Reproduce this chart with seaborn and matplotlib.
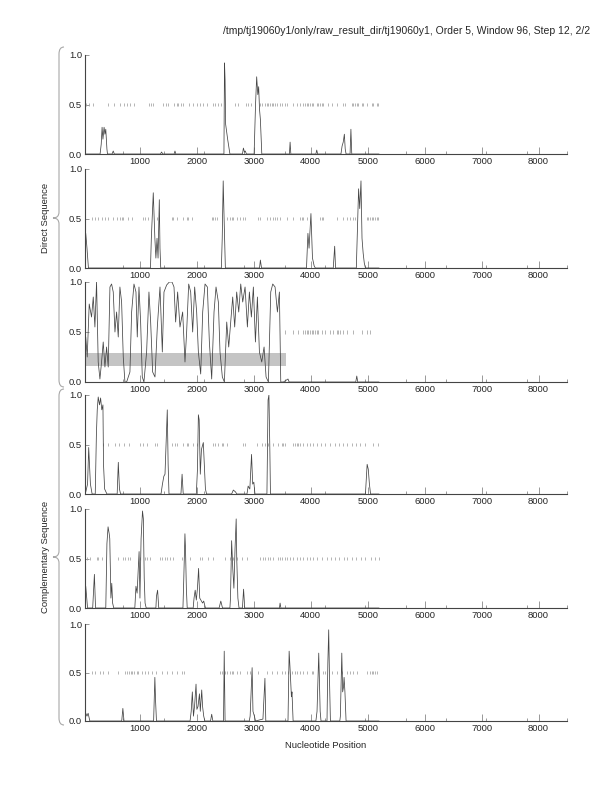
import numpy as np
import pandas as pd
import matplotlib
matplotlib.use("Agg")
import matplotlib.pyplot as plt
import seaborn as sns
from matplotlib.path import Path
from matplotlib.patches import PathPatch

title = "/tmp/tj19060y1/only/raw_result_dir/tj19060y1, Order 5, Window 96, Step 12, 2/2"

# coding potential traces (position, value) for the six frames
p1 = [(48, 0), (300, 0), (320, 0.1), (335, 0.27), (350, 0.15), (370, 0.27), (385, 0.2), (400, 0.25),
      (420, 0.05), (430, 0), (510, 0), (531, 0.03), (550, 0), (1360, 0), (1380, 0.02), (1400, 0),
      (1600, 0), (1615, 0.03), (1630, 0), (2475, 0), (2485, 0.92), (2495, 0.75), (2505, 0.3),
      (2540, 0.15), (2580, 0), (2800, 0), (2817, 0.06), (2835, 0.02), (2850, 0.03), (2870, 0),
      (3005, 0), (3030, 0.5), (3050, 0.78), (3070, 0.6), (3085, 0.68), (3100, 0.45), (3115, 0.35),
      (3140, 0), (3625, 0), (3637, 0.12), (3650, 0), (4090, 0), (4105, 0.04), (4120, 0), (4530, 0),
      (4550, 0.08), (4570, 0.12), (4590, 0.2), (4605, 0.05), (4620, 0), (4690, 0), (4705, 0.25),
      (4720, 0), (5200, 0)]
p2 = [(48, 0.35), (70, 0.2), (95, 0), (1185, 0), (1200, 0.3), (1234, 0.76), (1250, 0.5), (1262, 0.3),
      (1280, 0.1), (1300, 0.3), (1318, 0.1), (1340, 0.69), (1352, 0.2), (1365, 0), (2430, 0),
      (2445, 0.3), (2462, 0.88), (2478, 0.5), (2500, 0), (3100, 0), (3115, 0.08), (3135, 0),
      (3925, 0), (3950, 0.35), (3970, 0.2), (4003, 0.55), (4030, 0.1), (4060, 0.02), (4080, 0),
      (4395, 0), (4420, 0.22), (4435, 0), (4800, 0), (4840, 0.8), (4860, 0.6), (4882, 0.88),
      (4900, 0.3), (4920, 0.15), (4940, 0.05), (4960, 0), (5200, 0)]
p3 = [(48, 0.45), (74, 0.25), (109, 0.78), (150, 0.65), (180, 0.85), (209, 0.55), (238, 1.0),
      (267, 0.2), (297, 0.03), (326, 0.2), (355, 0.4), (385, 0.15), (414, 0.35), (443, 0.15),
      (473, 0.95), (502, 0.98), (531, 0.9), (561, 0.5), (590, 0.7), (619, 0.45), (648, 0.95),
      (678, 0.8), (707, 0.25), (736, 0), (766, 0), (824, 0.1), (854, 0.7), (895, 0.98), (930, 0.9),
      (953, 0.45), (983, 0.95), (1012, 0.6), (1041, 0.05), (1070, 0), (1117, 0.3), (1158, 0.9),
      (1188, 0.6), (1223, 0.1), (1264, 0.05), (1305, 0.55), (1352, 0.95), (1393, 0.3), (1422, 0.9),
      (1469, 0.97), (1516, 1.0), (1563, 1.0), (1598, 0.95), (1627, 0.6), (1662, 0.9), (1703, 0.55),
      (1750, 0.7), (1791, 0.2), (1820, 0.5), (1856, 0.98), (1891, 0.9), (1926, 0.5), (1961, 0.95),
      (1996, 0.7), (2026, 0.3), (2067, 0.08), (2102, 0.7), (2143, 0.98), (2184, 0.95), (2219, 0.4),
      (2260, 0.03), (2301, 0.7), (2336, 0.95), (2377, 0.8), (2406, 0.3), (2447, 0.05), (2483, 0),
      (2524, 0.6), (2559, 0.35), (2594, 0.6), (2629, 0.85), (2664, 0.55), (2699, 0.9), (2735, 0.7),
      (2770, 0.98), (2805, 0.8), (2846, 0.95), (2887, 0.55), (2922, 0.9), (2957, 0.65), (2992, 0.95),
      (3028, 0.4), (3063, 0.85), (3098, 0.3), (3139, 0.2), (3180, 0.35), (3215, 0.05), (3256, 0),
      (3297, 0.9), (3332, 0.98), (3373, 0.95), (3414, 0.7), (3449, 0.9), (3473, 0), (3520, 0),
      (3600, 0.03), (3620, 0), (4790, 0), (4808, 0.06), (4825, 0), (5200, 0)]
p4 = [(48, 0.02), (80, 0.1), (100, 0.47), (130, 0.1), (160, 0), (215, 0), (235, 0.6), (250, 0.85),
      (267, 0.98), (290, 0.9), (309, 0.97), (330, 0.85), (350, 0.9), (360, 0.3), (380, 0.05), (420, 0),
      (600, 0), (620, 0.32), (640, 0.05), (660, 0), (1370, 0), (1395, 0.1), (1420, 0.18), (1440, 0.2),
      (1480, 0.85), (1495, 0.3), (1510, 0), (1720, 0), (1740, 0.2), (1760, 0), (1990, 0), (2010, 0.25),
      (2026, 0.8), (2040, 0.75), (2060, 0.2), (2080, 0.45), (2113, 0.52), (2130, 0.3), (2150, 0.05),
      (2170, 0), (2610, 0), (2640, 0.04), (2680, 0.02), (2700, 0), (2880, 0), (2900, 0.08),
      (2930, 0.05), (2960, 0.4), (2980, 0.1), (3000, 0.12), (3020, 0), (3230, 0), (3250, 0.95),
      (3265, 1.0), (3280, 0.5), (3292, 0), (4960, 0), (4990, 0.3), (5010, 0.25), (5030, 0.1),
      (5050, 0), (5200, 0)]
p5 = [(48, 0.22), (80, 0), (170, 0), (200, 0.34), (220, 0), (400, 0), (420, 0.65), (440, 0.82),
      (460, 0.75), (470, 0.7), (480, 0.4), (490, 0.1), (505, 0.25), (520, 0.05), (540, 0), (910, 0),
      (930, 0.22), (950, 0.15), (985, 0.57), (1000, 0.1), (1020, 0.7), (1045, 0.98), (1060, 0.9),
      (1075, 0.3), (1090, 0.05), (1110, 0), (1280, 0), (1290, 0.12), (1310, 0.18), (1330, 0),
      (1755, 0), (1770, 0.3), (1790, 0.75), (1800, 0.6), (1815, 0.2), (1830, 0), (1935, 0),
      (1950, 0.1), (1970, 0.18), (1990, 0.08), (2010, 0.2), (2030, 0.4), (2050, 0.1), (2070, 0.08),
      (2100, 0.05), (2120, 0.07), (2150, 0), (2390, 0), (2420, 0.07), (2450, 0), (2580, 0),
      (2590, 0.1), (2610, 0.68), (2630, 0.4), (2650, 0.2), (2670, 0.6), (2690, 0.9), (2700, 0.5),
      (2720, 0.1), (2740, 0), (2800, 0), (2820, 0.19), (2840, 0), (3450, 0), (3461, 0.05), (3475, 0),
      (5200, 0)]
p6 = [(48, 0.08), (70, 0.05), (90, 0.08), (120, 0), (680, 0), (700, 0.13), (720, 0), (1240, 0),
      (1262, 0.45), (1275, 0.2), (1290, 0), (1880, 0), (1900, 0.1), (1920, 0.3), (1940, 0.05),
      (1960, 0.16), (1985, 0.38), (2000, 0.12), (2020, 0.15), (2045, 0.28), (2060, 0.1), (2085, 0.32),
      (2100, 0.15), (2120, 0.05), (2140, 0), (2240, 0), (2260, 0.07), (2280, 0), (2468, 0),
      (2480, 0.72), (2495, 0), (2920, 0), (2935, 0.05), (2970, 0.55), (2985, 0.1), (3010, 0.05),
      (3030, 0), (3160, 0.02), (3195, 0.44), (3210, 0), (3600, 0), (3620, 0.72), (3640, 0.5),
      (3660, 0.25), (3670, 0.3), (3690, 0), (4090, 0), (4110, 0.1), (4140, 0.7), (4165, 0.1),
      (4180, 0), (4285, 0), (4300, 0.6), (4315, 0.94), (4330, 0.4), (4345, 0), (4510, 0), (4520, 0.05),
      (4545, 0.7), (4560, 0.3), (4575, 0.35), (4585, 0.45), (4600, 0.3), (4620, 0), (5200, 0)]

# stop codon positions drawn at 0.5
s1 = [51, 109, 168, 443, 543, 648, 725, 766, 824, 895, 1158, 1188, 1223, 1410, 1451, 1498, 1598, 1645,
      1674, 1715, 1762, 1867, 1938, 1996, 2055, 2113, 2172, 2277, 2319, 2377, 2418, 2670, 2729, 2863,
      2905, 2946, 3110, 3151, 3198, 3227, 3256, 3285, 3315, 3344, 3373, 3403, 3461, 3491, 3549, 3578,
      3696, 3754, 3813, 3871, 3900, 3930, 3958, 3988, 4018, 4047, 4106, 4134, 4164, 4193, 4222, 4310,
      4369, 4457, 4574, 4603, 4720, 4750, 4779, 4808, 4838, 4896, 4925, 4984, 5072, 5101, 5160, 5189]
s2 = [150, 209, 267, 326, 385, 443, 531, 590, 648, 678, 707, 795, 854, 1059, 1088, 1147, 1293, 1557,
      1586, 1645, 1762, 1820, 1850, 1908, 2260, 2289, 2319, 2348, 2524, 2582, 2612, 2641, 2699, 2758,
      2817, 2846, 3080, 3110, 3227, 3285, 3344, 3373, 3403, 3461, 3578, 3696, 3813, 3842, 3871, 3930,
      4164, 4193, 4222, 4457, 4574, 4632, 4691, 4750, 4779, 4984, 5013, 5043, 5072, 5101, 5130, 5160,
      5189]
s3 = [3549, 3696, 3784, 3871, 3900, 3930, 3959, 3988, 4018, 4047, 4077, 4106, 4134, 4193, 4252, 4339,
      4398, 4457, 4486, 4515, 4574, 4632, 4750, 4896, 4984, 5043]
s4 = [344, 443, 560, 637, 725, 812, 1000, 1059, 1117, 1264, 1293, 1557, 1615, 1645, 1750, 1820, 1850,
      1938, 1996, 2289, 2319, 2377, 2436, 2465, 2524, 2817, 2846, 3051, 3139, 3198, 3256, 3344, 3432,
      3491, 3520, 3549, 3696, 3725, 3754, 3784, 3813, 3871, 3930, 3989, 4047, 4106, 4180, 4250, 4330,
      4420, 4500, 4560, 4640, 4720, 4800, 4870, 4950, 5100, 5180]
s5 = [62, 121, 238, 267, 326, 619, 707, 736, 795, 824, 1000, 1088, 1117, 1176, 1352, 1381, 1440, 1469,
      1527, 1586, 1733, 1879, 2055, 2084, 2201, 2289, 2494, 2582, 2641, 2699, 2787, 2875, 3110, 3168,
      3198, 3256, 3285, 3344, 3432, 3461, 3491, 3549, 3578, 3637, 3696, 3754, 3813, 3871, 3930, 3989,
      4047, 4106, 4200, 4280, 4350, 4420, 4500, 4580, 4640, 4720, 4800, 4880, 4960, 5050, 5120, 5190]
s6 = [150, 209, 297, 355, 443, 619, 736, 777, 807, 836, 865, 895, 941, 971, 1029, 1088, 1147, 1205,
      1281, 1381, 1469, 1557, 1645, 1733, 1774, 2406, 2436, 2494, 2535, 2582, 2612, 2641, 2699, 2758,
      2875, 2934, 3080, 3238, 3315, 3403, 3491, 3549, 3608, 3666, 3725, 3754, 3813, 3871, 3930, 4018,
      4046, 4222, 4252, 4369, 4457, 4545, 4632, 4691, 4750, 4808, 4984, 5043, 5072, 5101, 5130, 5160]

orf_start, orf_end = 48, 3566
orf_low, orf_high = 0.157, 0.294

traces = [p1, p2, p3, p4, p5, p6]
stops = [s1, s2, s3, s4, s5, s6]

sns.set_style("ticks")
plt.rcParams['font.family'] = ['Liberation Sans', 'DejaVu Sans']
plt.rcParams['axes.linewidth'] = 0.8

W, H = 612, 792
fig = plt.figure(figsize=(W / 100, H / 100), dpi=100)

tops = [55, 169, 282, 395, 509, 624]
bots = [154, 268, 382, 494, 608, 721]
left_px, right_px = 85, 567

for i in range(6):
    ax = fig.add_axes([left_px / W, 1 - bots[i] / H, (right_px - left_px) / W, (bots[i] - tops[i]) / H])
    df = pd.DataFrame(traces[i], columns=["pos", "val"])
    if i == 2:
        ax.fill_between([orf_start, orf_end], orf_low, orf_high, color="#c4c4c4", lw=0, zorder=0)
    ax.vlines(stops[i], 0.484, 0.516, color="#a8a8a8", lw=0.6)
    sns.lineplot(data=df, x="pos", y="val", ax=ax, color="#444444", lw=0.55, sort=False, estimator=None)
    ax.set_xlim(35, 8500)
    ax.set_ylim(0, 1.0)
    ax.set_xticks(np.arange(1000, 8001, 1000))
    ax.set_xticks(np.arange(1, 13) * 8500 / 12, minor=True)
    ax.set_yticks([0, 0.5, 1.0])
    ax.set_yticklabels(["0.0", "0.5", "1.0"])
    ax.set_xlabel("")
    ax.set_ylabel("")
    sns.despine(ax=ax)
    for sp in ax.spines.values():
        sp.set_color("#444444")
    ax.tick_params(which="major", direction="in", length=5, width=0.6, color="#888888",
                   labelsize=6.8, pad=2)
    ax.tick_params(axis="y", length=3)
    ax.tick_params(which="minor", direction="in", length=2.5, width=0.6, color="#888888")


def brace(top, mid, bot, x=59, xin=64, xtip=53):
    pts = [(xin, top), (x, top), (x, top + 7), (x, mid - 6), (x, mid), (xtip, mid),
           (x, mid), (x, mid + 6), (x, bot - 7), (x, bot), (xin, bot)]
    codes = [Path.MOVETO, Path.CURVE3, Path.CURVE3, Path.LINETO, Path.CURVE3, Path.CURVE3,
             Path.CURVE3, Path.CURVE3, Path.LINETO, Path.CURVE3, Path.CURVE3]
    verts = [(px / W, 1 - py / H) for px, py in pts]
    fig.add_artist(PathPatch(Path(verts, codes), fill=False, ec="#a8a8a8", lw=0.8,
                             transform=fig.transFigure))


brace(47, 218, 387)
brace(389, 557, 725)

fig.text(46 / W, 1 - 218 / H, "Direct Sequence", rotation=90, ha="center", va="center", fontsize=6.8)
fig.text(46 / W, 1 - 557 / H, "Complementary Sequence", rotation=90, ha="center", va="center",
         fontsize=6.8)
fig.text(590 / W, 1 - 31 / H, title, ha="right", va="center", fontsize=7.5)
fig.text(326 / W, 1 - 746 / H, "Nucleotide Position", ha="center", va="center", fontsize=6.8)

fig.savefig("out.png", dpi=100)
